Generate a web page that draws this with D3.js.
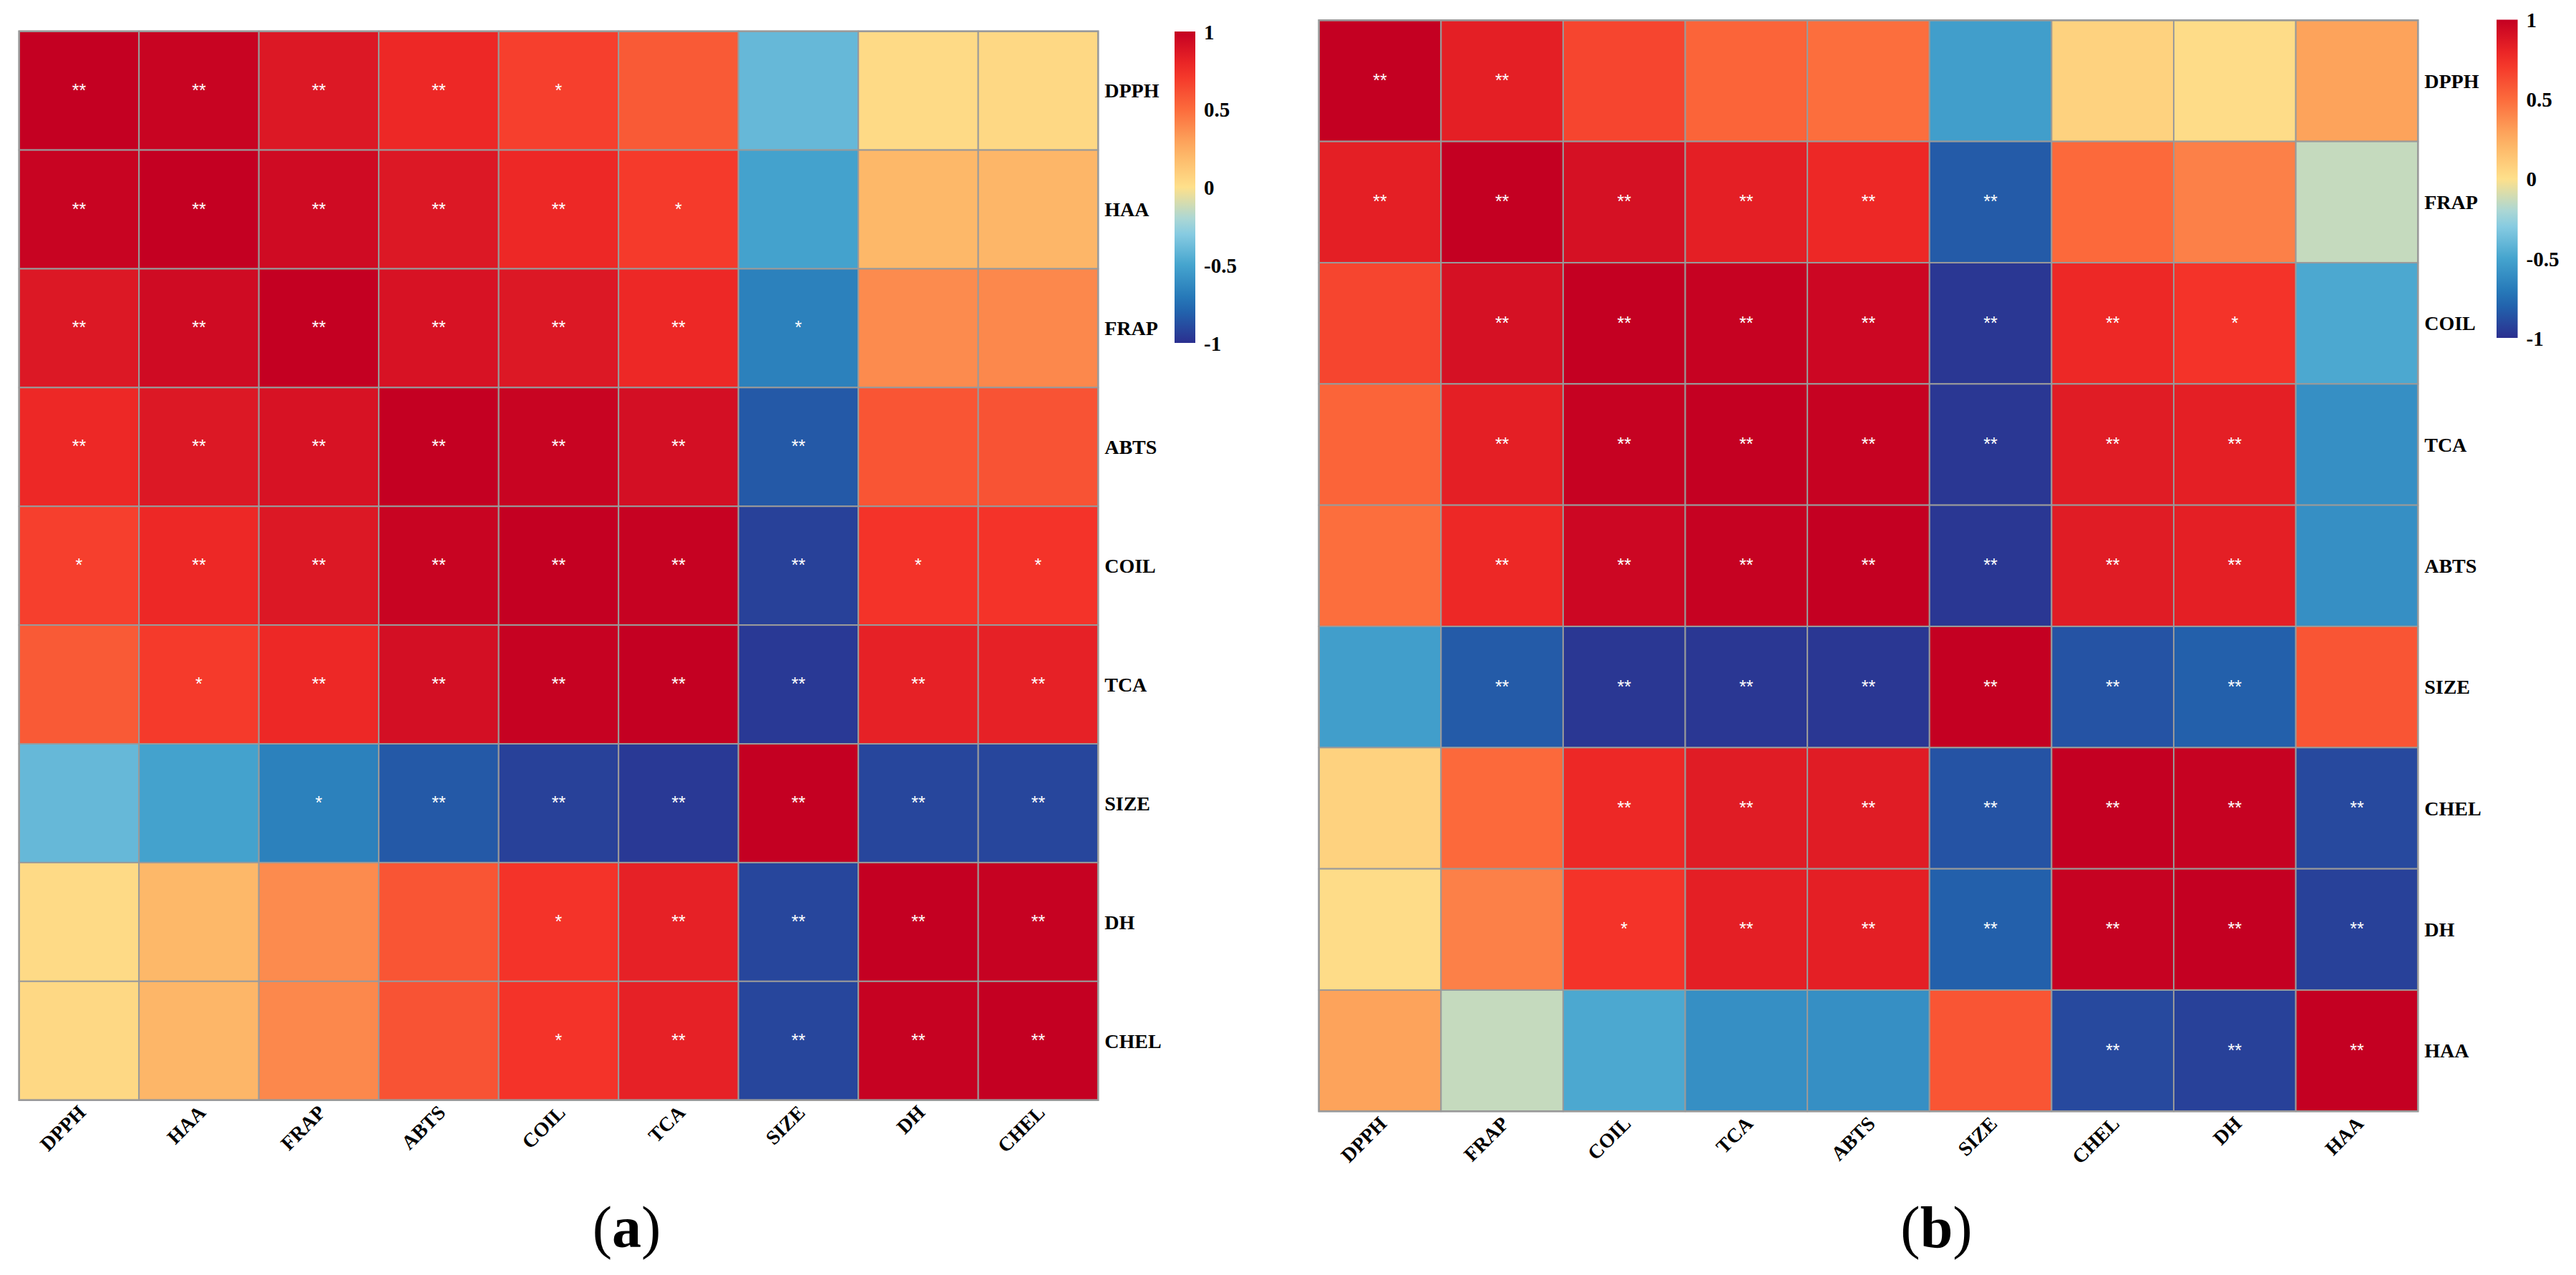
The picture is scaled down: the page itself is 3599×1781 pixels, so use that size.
<!DOCTYPE html>
<html>
<head>
<meta charset="utf-8">
<script src="https://cdn.jsdelivr.net/npm/d3@7/dist/d3.min.js"></script>
<style>
    html, body { margin: 0; padding: 0; background: #ffffff; }
    svg { display: block; }
    .axis text { font-family: "Liberation Serif", "Times New Roman", serif; font-weight: bold; fill: #000; }
    .stars { font-family: "Liberation Sans", Arial, sans-serif; fill: #ffffff; }
</style>
</head>
<body>
<svg id="chart" width="3599" height="1781"></svg>
<script>
// 面板(a)的变量顺序
const varsA = ['DPPH', 'HAA', 'FRAP', 'ABTS', 'COIL', 'TCA', 'SIZE', 'DH', 'CHEL']
// 面板(b)的变量顺序
const varsB = ['DPPH', 'FRAP', 'COIL', 'TCA', 'ABTS', 'SIZE', 'CHEL', 'DH', 'HAA']

// 相关系数
const corrA = [
    [1.00, 0.98, 0.87, 0.78, 0.68, 0.57, -0.40, 0.03, 0.04],
    [0.98, 1.00, 0.94, 0.87, 0.78, 0.70, -0.51, 0.20, 0.21],
    [0.87, 0.94, 1.00, 0.90, 0.87, 0.78, -0.67, 0.38, 0.39],
    [0.78, 0.87, 0.90, 1.00, 0.98, 0.92, -0.84, 0.59, 0.60],
    [0.68, 0.78, 0.87, 0.98, 1.00, 0.99, -0.93, 0.73, 0.73],
    [0.57, 0.70, 0.78, 0.92, 0.99, 1.00, -0.96, 0.82, 0.82],
    [-0.40, -0.51, -0.67, -0.84, -0.93, -0.96, 1.00, -0.91, -0.91],
    [0.03, 0.20, 0.38, 0.59, 0.73, 0.82, -0.91, 1.00, 0.99],
    [0.04, 0.21, 0.39, 0.60, 0.73, 0.82, -0.91, 0.99, 1.00],
]
const corrB = [
    [1.00, 0.83, 0.655, 0.53, 0.49, -0.53, 0.07, 0.02, 0.29],
    [0.83, 1.00, 0.91, 0.83, 0.78, -0.83, 0.51, 0.42, -0.14],
    [0.655, 0.91, 1.00, 0.99, 0.96, -0.97, 0.78, 0.73, -0.48],
    [0.53, 0.83, 0.99, 1.00, 0.99, -0.97, 0.85, 0.83, -0.60],
    [0.49, 0.78, 0.96, 0.99, 1.00, -0.97, 0.85, 0.83, -0.60],
    [-0.53, -0.83, -0.97, -0.97, -0.97, 1.00, -0.86, -0.81, 0.59],
    [0.07, 0.51, 0.78, 0.85, 0.85, -0.86, 1.00, 0.99, -0.90],
    [0.02, 0.42, 0.73, 0.83, 0.83, -0.81, 0.99, 1.00, -0.93],
    [0.29, -0.14, -0.48, -0.60, -0.60, 0.59, -0.90, -0.93, 1.00],
]

// 显著性标记
const sigA = [
    ['**', '**', '**', '**', '*', '', '', '', ''],
    ['**', '**', '**', '**', '**', '*', '', '', ''],
    ['**', '**', '**', '**', '**', '**', '*', '', ''],
    ['**', '**', '**', '**', '**', '**', '**', '', ''],
    ['*', '**', '**', '**', '**', '**', '**', '*', '*'],
    ['', '*', '**', '**', '**', '**', '**', '**', '**'],
    ['', '', '*', '**', '**', '**', '**', '**', '**'],
    ['', '', '', '', '*', '**', '**', '**', '**'],
    ['', '', '', '', '*', '**', '**', '**', '**'],
]
const sigB = [
    ['**', '**', '', '', '', '', '', '', ''],
    ['**', '**', '**', '**', '**', '**', '', '', ''],
    ['', '**', '**', '**', '**', '**', '**', '*', ''],
    ['', '**', '**', '**', '**', '**', '**', '**', ''],
    ['', '**', '**', '**', '**', '**', '**', '**', ''],
    ['', '**', '**', '**', '**', '**', '**', '**', ''],
    ['', '', '**', '**', '**', '**', '**', '**', '**'],
    ['', '', '*', '**', '**', '**', '**', '**', '**'],
    ['', '', '', '', '', '', '**', '**', '**'],
]

// 色标
const colorStops = [-1, -0.75, -0.5, -0.25, 0, 0.25, 0.5, 0.75, 1]
const colorRange = ['#2b2f8f', '#2070b4', '#45a4ce', '#98d5e6', '#fee08b', '#fdae61', '#fc6b3c', '#f32e27', '#c40022']
const legendTicks = [-1, -0.5, 0, 0.5, 1]

const color = d3.scaleLinear().domain(colorStops).range(colorRange).interpolate(d3.interpolateRgb)
const svg = d3.select('#chart')
svg.append('rect').attr('width', 3599).attr('height', 1781).attr('fill', '#ffffff')

const defs = svg.append('defs')
const grad = defs.append('linearGradient')
    .attr('id', 'legendGrad')
    .attr('x1', 0).attr('y1', 1).attr('x2', 0).attr('y2', 0)
d3.range(0, 1.0001, 0.05).forEach((t) => {
    grad.append('stop').attr('offset', t).attr('stop-color', color(-1 + 2 * t))
})

function drawPanel(opt) {
    const { vars, corr, sig, x0, y0, w, h, legend, tag } = opt
    const g = svg.append('g')

    const x = d3.scaleBand().domain(vars).range([x0, x0 + w])
    const y = d3.scaleBand().domain(vars).range([y0, y0 + h])

    const cells = []
    vars.forEach((r, i) => vars.forEach((c, j) => {
        cells.push({ r, c, v: corr[i][j], s: sig[i][j] })
    }))

    g.append('g').selectAll('rect')
        .data(cells)
        .join('rect')
        .attr('x', d => x(d.c))
        .attr('y', d => y(d.r))
        .attr('width', x.bandwidth())
        .attr('height', y.bandwidth())
        .attr('fill', d => color(d.v))
        .attr('stroke', '#9a9a9a')
        .attr('stroke-width', 2)

    // 外框
    g.append('rect')
        .attr('x', x0).attr('y', y0).attr('width', w).attr('height', h)
        .attr('fill', 'none').attr('stroke', '#9a9a9a').attr('stroke-width', 2.5)

    // 星号
    g.append('g').attr('class', 'stars').selectAll('text')
        .data(cells.filter(d => d.s))
        .join('text')
        .attr('x', d => x(d.c) + x.bandwidth() / 2)
        .attr('y', d => y(d.r) + y.bandwidth() / 2 + 8)
        .attr('text-anchor', 'middle')
        .attr('font-size', '25px')
        .text(d => d.s)

    // 右侧行标签
    const ax = g.append('g')
        .attr('class', 'axis')
        .attr('transform', `translate(${x0 + w},0)`)
        .call(d3.axisRight(y).tickSize(0).tickPadding(9))
    ax.select('.domain').remove()
    ax.selectAll('text').attr('font-size', '28px').attr('dy', '0.35em')

    // 底部列标签, 旋转45度
    const bx = g.append('g')
        .attr('class', 'axis')
        .attr('transform', `translate(0,${y0 + h})`)
        .call(d3.axisBottom(x).tickSize(0))
    bx.select('.domain').remove()
    bx.selectAll('text')
        .attr('font-size', '28px')
        .attr('x', 0).attr('y', 0).attr('dy', 0)
        .attr('text-anchor', 'end')
        .attr('transform', 'translate(11,19) rotate(-45)')

    // 图例
    const ly = d3.scaleLinear().domain([-1, 1]).range([legend.y1, legend.y0])
    g.append('rect')
        .attr('x', legend.x).attr('y', legend.y0)
        .attr('width', legend.w).attr('height', legend.y1 - legend.y0)
        .attr('fill', 'url(#legendGrad)')
    const lg = g.append('g')
        .attr('class', 'axis')
        .attr('transform', `translate(${legend.x + legend.w},0)`)
        .call(d3.axisRight(ly).tickValues(legendTicks).tickSize(0).tickPadding(12)
            .tickFormat(d => String(d)))
    lg.select('.domain').remove()
    lg.selectAll('text').attr('font-size', '29px').attr('dy', '0.35em')

    // 子图编号
    const t = svg.append('text')
        .attr('x', x0 + w / 2 + 95)
        .attr('y', 1742)
        .attr('text-anchor', 'middle')
        .attr('font-family', '"Liberation Serif", "Times New Roman", serif')
        .attr('font-size', '82px')
        .attr('fill', '#000')
    t.append('tspan').text('(')
    t.append('tspan').attr('font-weight', 'bold').text(tag)
    t.append('tspan').text(')')
}

drawPanel({
    vars: varsA, corr: corrA, sig: sigA,
    x0: 26.7, y0: 43.7, w: 1507.5, h: 1493,
    legend: { x: 1641, w: 29, y0: 44, y1: 479 },
    tag: 'a',
})

drawPanel({
    vars: varsB, corr: corrB, sig: sigB,
    x0: 1842.7, y0: 28.3, w: 1535.5, h: 1524,
    legend: { x: 3488, w: 29.5, y0: 27.5, y1: 472 },
    tag: 'b',
})
</script>
</body>
</html>
